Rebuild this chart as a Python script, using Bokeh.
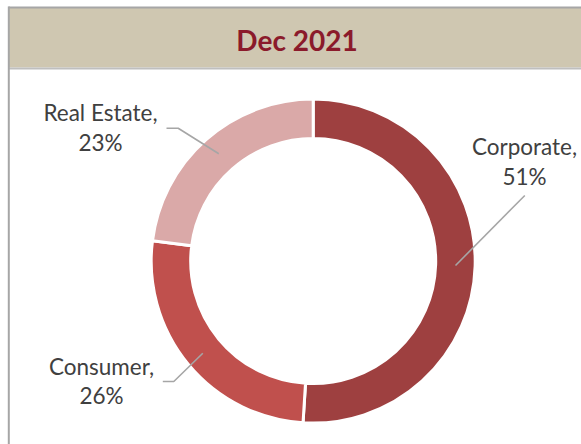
import math
from bokeh.plotting import figure
from bokeh.models import Range1d, ColumnDataSource
from bokeh.core.properties import value
from bokeh.embed import file_html
from bokeh.resources import INLINE

# ---- data ----
title_text = "Dec 2021"
categories = ["Corporate", "Consumer", "Real Estate"]
shares = [51, 26, 23]
colors = ["#9E4040", "#C0504D", "#DAA9A8"]

W, H = 581, 444
p = figure(width=W, height=H, x_range=Range1d(0, W), y_range=Range1d(0, H),
           output_backend="svg", toolbar_location=None, min_border=0,
           background_fill_color="white", border_fill_color="white",
           outline_line_color=None)
p.axis.visible = False
p.grid.visible = False

# header band and frame
p.quad(left=[8], right=[W], bottom=[377], top=[436.5], fill_color="#CFC7B1", line_color=None)
p.line([8, W], [376, 376], line_color="#BFBFBF", line_width=2)
p.line([8, W], [437, 437], line_color="#A6A6A6", line_width=2)
p.line([8.3, 8.3], [0, 438], line_color="#A6A6A6", line_width=2)
p.text(x=[296.5], y=[405.0], text=[title_text], text_font=value("Lato"),
       text_font_style="bold", text_font_size="28px", text_color="#8B1A2B",
       text_align="center", text_baseline="alphabetic")

# donut
cx, cy = 312.7, 183.4
total = float(sum(shares))
ends = []
acc = 0.0
for v in shares:
    acc += v
    ends.append(acc / total)
starts = [0.0] + ends[:-1]
start_ang = [math.pi / 2 - 2 * math.pi * e for e in ends]
end_ang = [math.pi / 2 - 2 * math.pi * s for s in starts]
src = ColumnDataSource(dict(start=start_ang, end=end_ang, color=colors))
p.annular_wedge(x=cx, y=cy, inner_radius=122.5, outer_radius=162,
                start_angle="start", end_angle="end", direction="anticlock",
                fill_color="color", line_color="white", line_width=3, source=src)

# leader lines
leaders = {
    "Corporate": ([524.3, 455.0], [249.0, 179.0]),
    "Consumer": ([162.3, 173.3, 202.3], [63.0, 63.0, 91.3]),
    "Real Estate": ([166.0, 177.7, 218.3], [316.3, 316.3, 290.7]),
}
for name in categories:
    xs, ys = leaders[name]
    p.line(xs, ys, line_color="#A6A6A6", line_width=1.6)

# labels
label_pos = {
    "Corporate": (524.0, 298.5, 268.5),
    "Consumer": (101.0, 78.5, 49.5),
    "Real Estate": (100.0, 331.8, 302.5),
}
lx, ly, lt = [], [], []
for name, v in zip(categories, shares):
    x, y1, y2 = label_pos[name]
    lx += [x, x]
    ly += [y1, y2]
    lt += [name + ",", "%d%%" % v]
p.text(x=lx, y=ly, text=lt, text_font=value("Lato"), text_font_size="22.5px",
       text_color="#404040", text_align="center", text_baseline="alphabetic")

open("out.html", "w").write(file_html(p, INLINE))
